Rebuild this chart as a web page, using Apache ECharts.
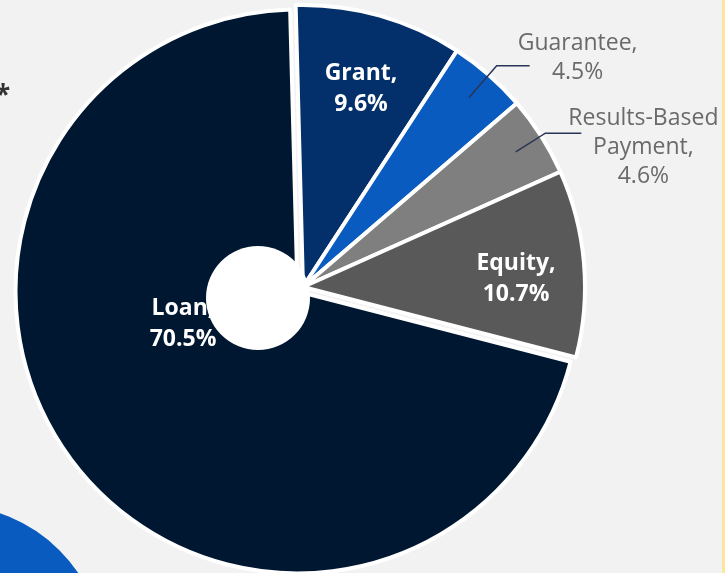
<!DOCTYPE html>
<html>
<head>
<meta charset="utf-8">
<script src="https://cdn.jsdelivr.net/npm/echarts@6/dist/echarts.min.js"></script>
<style>
  html, body { margin: 0; padding: 0; background: #f2f2f2; }
  #chart { width: 725px; height: 573px; }
</style>
</head>
<body>
<div id="chart"></div>
<script>
// slices, clockwise from the top
const categories = ['Grant', 'Guarantee', 'Results-Based Payment', 'Equity', 'Loan'];
const shares = [9.6, 4.5, 4.6, 10.7, 70.5];
const colors = ['#03306b', '#0a5bbf', '#7f7f7f', '#595959', '#001731'];
const outsideLabels = ['Guarantee', 'Results-Based Payment'];
const pulledOut = 'Loan';

let myChart = echarts.init(document.getElementById('chart'))

// where the white labels inside the pie sit
const insidePos = {
  'Grant': [361, 89],
  'Equity': [516, 279],
  'Loan': [183, 324]
}
// leader line settings for the outside labels
const outsideLine = {
  'Guarantee': {length: 42, length2: 33, dist: -12, padding: [0, 0, 16, 0]},
  'Results-Based Payment': {length: 35, length2: 36, dist: -13, padding: [28, 0, 0, 0]}
}

function richLines(text, style) {
  return text.split('\n').map(s => '{' + style + '|' + s + '}').join('\n')
}

let mainData = categories.map((name, i) => ({
  name: name,
  value: shares[i],
  selected: name === pulledOut,
  itemStyle: {color: colors[i]}
}))

// transparent copy of the pie that only carries the labels
let labelData = categories.map((name, i) => {
  let o = outsideLine[name]
  if (o) {
    return {
      name: name, value: shares[i],
      label: {show: true, position: 'outside', distanceToLabelLine: o.dist, padding: o.padding,
        formatter: p => richLines(p.name.split(' ').join('\n') + ',\n' + p.value + '%', 'o')},
      labelLine: {show: true, length: o.length, length2: o.length2}
    }
  }
  return {
    name: name, value: shares[i],
    label: {show: true, position: 'inside',
      formatter: p => richLines(p.name + ',\n' + p.value + '%', 'w')},
    labelLine: {show: false}
  }
})

let option = {
  backgroundColor: '#f2f2f2',
  animation: false,
  graphic: [
    {type: 'circle', shape: {cx: -50, cy: 660, r: 155}, style: {fill: '#0a5bbf'}, z: 1},
    {type: 'rect', shape: {x: 722, y: 0, width: 3, height: 573}, style: {fill: '#fde59a'}, z: 1},
    {type: 'text', left: -4, top: 84, style: {text: '*', fill: '#333', font: 'bold 26px "Open Sans"'}, z: 1},
    {type: 'circle', shape: {cx: 258, cy: 298, r: 52}, style: {fill: '#ffffff'}, z: 100}
  ],
  series: [
    {
      type: 'pie',
      left: 0, top: 0, width: 1000, height: 573,
      center: [303, 287],
      radius: 282,
      startAngle: 91.5,
      clockwise: true,
      selectedMode: 'single',
      selectedOffset: 7,
      silent: true,
      itemStyle: {borderColor: '#ffffff', borderWidth: 4},
      select: {itemStyle: {borderColor: '#ffffff', borderWidth: 4}},
      label: {show: false},
      labelLine: {show: false},
      data: mainData
    },
    {
      type: 'pie',
      z: 3,
      left: 0, top: 0, width: 1000, height: 573,
      center: [303, 287],
      radius: 252,
      startAngle: 91.5,
      clockwise: true,
      silent: true,
      itemStyle: {color: 'rgba(0,0,0,0)', borderWidth: 0},
      label: {
        overflow: 'none',
        rich: {
          w: {align: 'center', color: '#ffffff', fontSize: 23, fontWeight: 'bold',
              fontFamily: '"Open Sans"', lineHeight: 31},
          o: {align: 'center', color: '#6a6a6a', fontSize: 23,
              fontFamily: '"Open Sans"', lineHeight: 29}
        }
      },
      labelLine: {lineStyle: {color: '#2a3555', width: 1.5}},
      labelLayout: function (params) {
        let pos = insidePos[categories[params.dataIndex]]
        if (!pos) return {}
        return {x: pos[0], y: pos[1], align: 'center', verticalAlign: 'middle'}
      },
      data: labelData
    }
  ]
}

myChart.setOption(option)
</script>
</body>
</html>
